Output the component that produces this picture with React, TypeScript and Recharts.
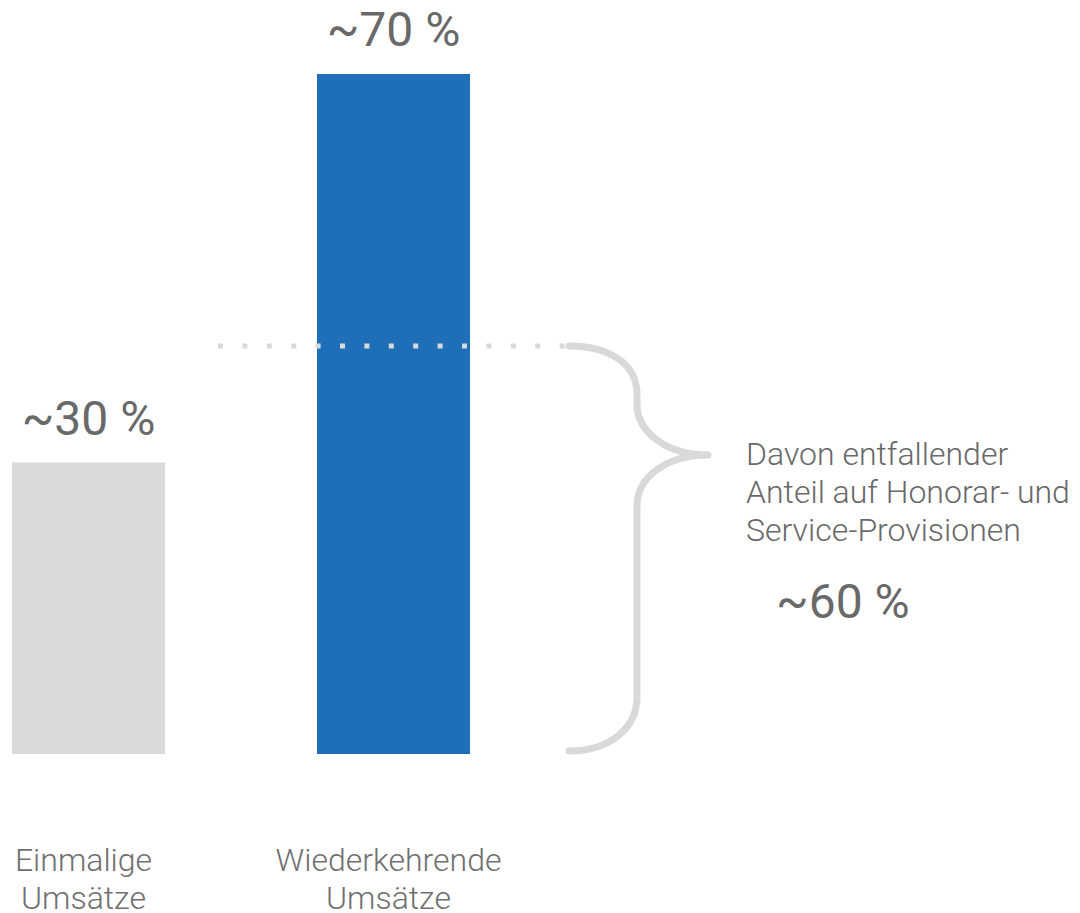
import type { FC } from 'react'
import { Bar, BarChart, Cell, LabelList, ReferenceArea, ReferenceLine, XAxis, YAxis } from 'recharts'

const categories = ['Einmalige\nUmsätze', 'Wiederkehrende\nUmsätze']
const shares = [30, 70]
const shareLabels = ['~30 %', '~70 %']
const barColors = ['#d9d9d9', '#1e6fb7']
const feeShareOfRecurring = 60
const feeShareLabel = '~60 %'
const feeNoteLines = ['Davon entfallender', 'Anteil auf Honorar- und', 'Service-Provisionen']

const data = categories.map((name, i) => ({ name, value: shares[i], label: shareLabels[i] }))
const feeLevel = (shares[1] * feeShareOfRecurring) / 100

const TEXT = '#696969'
const LIGHT = '#d9d9d9'
const SHIFT = 64

interface TickProps {
  x?: number
  y?: number
  payload?: { value: string }
}

const CategoryTick: FC<TickProps> = ({ x = 0, y = 0, payload }) => {
  const lines = (payload?.value ?? '').split('\n')
  return (
    <text x={x - 5} y={y} textAnchor="middle" fill="#707070" fontSize={32} fontWeight={300} fontFamily="Roboto">
      {lines.map((line, i) => (
        <tspan key={i} x={x - 5} y={y + 117 + i * 38}>
          {line}
        </tspan>
      ))}
    </text>
  )
}

interface LineShapeProps {
  y1?: number
}

const DottedLevel: FC<LineShapeProps> = ({ y1 = 0 }) => (
  <line x1={218 + SHIFT} x2={566 + SHIFT} y1={y1} y2={y1} stroke={LIGHT} strokeWidth={5} strokeDasharray="5 19.4" />
)

interface AreaShapeProps {
  y?: number
  height?: number
}

const Brace: FC<AreaShapeProps> = ({ y = 0, height = 0 }) => {
  const top = y
  const bottom = y + height - 3
  const l = 569 + SHIFT
  const v = 637 + SHIFT
  const t = 708 + SHIFT
  const tipY = top + 109
  const d = [
    `M${l},${top} C${l + 39},${top} ${v},${top + 17} ${v},${top + 48}`,
    `L${v},${tipY - 51} C${v},${tipY - 22} ${v + 31},${tipY} ${t},${tipY}`,
    `C${v + 31},${tipY} ${v},${tipY + 21} ${v},${tipY + 51}`,
    `L${v},${bottom - 54} C${v},${bottom - 23} ${l + 41},${bottom} ${l},${bottom}`,
  ].join(' ')
  const tx = 746 + SHIFT
  return (
    <g>
      <path d={d} fill="none" stroke={LIGHT} strokeWidth={7} strokeLinecap="round" strokeLinejoin="round" />
      <text fill={TEXT} fontSize={32} fontWeight={300} fontFamily="Roboto">
        {feeNoteLines.map((line, i) => (
          <tspan key={i} x={tx} y={tipY + 10 + i * 38}>
            {line}
          </tspan>
        ))}
      </text>
      <text x={776 + SHIFT} y={tipY + 163} fill={TEXT} fontSize={48} fontFamily="Roboto">
        {feeShareLabel}
      </text>
    </g>
  )
}

const App: FC = () => (
  <div style={{ position: 'absolute', left: -SHIFT, top: 0 }}>
    <BarChart width={1080 + SHIFT} height={913} data={data} margin={{ top: 74, right: 534, bottom: 59, left: 0 }}>
      <XAxis dataKey="name" axisLine={false} tickLine={false} tickSize={0} tickMargin={0} height={100} tick={<CategoryTick />} interval={0} />
      <YAxis hide domain={[0, 70]} />
      <ReferenceLine y={feeLevel} shape={<DottedLevel />} ifOverflow="visible" />
      <Bar dataKey="value" barSize={153} isAnimationActive={false}>
        {data.map((entry, i) => (
          <Cell key={entry.name} fill={barColors[i]} />
        ))}
        <LabelList dataKey="label" position="top" offset={28} fill={TEXT} fontSize={48} fontFamily="Roboto" />
      </Bar>
      <ReferenceArea y1={0} y2={feeLevel} shape={<Brace />} ifOverflow="visible" />
    </BarChart>
  </div>
)

export default App
